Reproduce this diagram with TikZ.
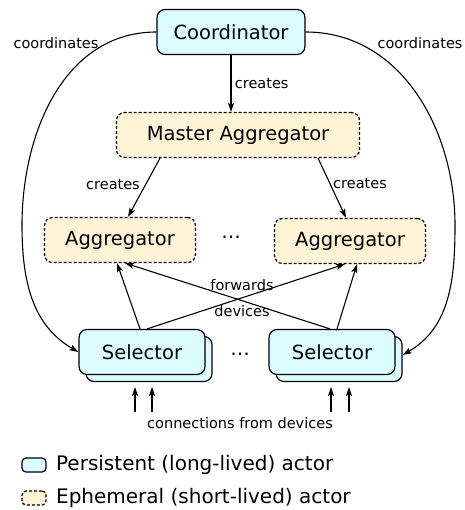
\documentclass[tikz,border=0pt]{standalone}
\usepackage{fontspec}
\setmainfont{DejaVu Sans}
\usetikzlibrary{arrows.meta,shadows}

\definecolor{persistfill}{HTML}{DDFCFF}
\definecolor{ephemfill}{HTML}{FFF4D6}

\tikzset{
  actor/.style={draw, line width=1.2pt, rounded corners=8pt, minimum height=45pt,
    font=\fontsize{19.5}{22}\selectfont},
  persistent/.style={actor, fill=persistfill},
  ephemeral/.style={actor, fill=ephemfill, dashed, dash pattern=on 3pt off 2pt},
  selectorbox/.style={persistent, copy shadow={shadow xshift=7pt, shadow yshift=-7pt}},
  lbl/.style={font=\fontsize{14.5}{16}\selectfont},
  flow/.style={-{Stealth[length=9pt,width=6pt,inset=2pt]}, line width=1.1pt}
}

\begin{document}
\begin{tikzpicture}[x=1pt,y=-1pt]
\useasboundingbox (0,0) rectangle (464,510);

\node[persistent, minimum width=148pt] (coord) at (231,32) {Coordinator};
\node[ephemeral, minimum width=243pt] (master) at (238,135) {Master Aggregator};
\node[ephemeral, minimum width=151pt] (aggL) at (120,240) {Aggregator};
\node[ephemeral, minimum width=151pt] (aggR) at (350,241) {Aggregator};
\node[selectorbox, minimum width=126pt] (selL) at (142,352) {Selector};
\node[selectorbox, minimum width=126pt] (selR) at (332,352) {Selector};
\node[font=\fontsize{19.5}{22}\selectfont] (dotsA) at (231,237) {\dots};
\node[font=\fontsize{19.5}{22}\selectfont] (dotsS) at (240,354) {\dots};

\coordinate (bendL) at (22,225);
\coordinate (bendR) at (455,225);
\draw[flow] (coord.west) to[out=180,in=90] (bendL) to[out=-90,in=150] (selL.west);
\draw[flow] (coord.east) to[out=0,in=90] (bendR) to[out=-90,in=30] ([xshift=7pt,yshift=-3pt]selR.east);
\node[lbl] (coordsL) at (56,43) {coordinates};
\node[lbl] (coordsR) at (420,43) {coordinates};

\draw[flow] (coord.south) -- node[lbl, right] {creates} (master.north -| coord.south);
\draw[flow] (master.south -| 160,0) -- (aggL.north -| 128,0);
\draw[flow] (master.south -| 318,0) -- (aggR.north -| 346,0);
\node[lbl] (createsL) at (113,185) {creates};
\node[lbl] (createsR) at (360,184) {creates};

\draw[flow] (selL.north -| 140,0) -- (aggL.south -| 117,0);
\draw[flow] (selL.north -| 147,0) -- (aggR.south -| 345,0);
\draw[flow] (selR.north -| 330,0) -- (aggL.south -| 125,0);
\draw[flow] (selR.north -| 337,0) -- (aggR.south -| 357,0);
\node[lbl] (fwd) at (242,285) {forwards};
\node[lbl] (dev) at (242,311) {devices};

\foreach \x in {135,152,331,349}
  \draw[flow] (\x,412) -- (\x,387);
\node[lbl] (conn) at (240,423) {connections from devices};

\node[persistent, minimum width=24pt, minimum height=14pt, rounded corners=4pt, inner sep=0pt] (keyP) at (34,465) {};
\node[ephemeral, minimum width=24pt, minimum height=14pt, rounded corners=4pt, inner sep=0pt] (keyE) at (34,498) {};
\node[anchor=west, font=\fontsize{20}{23}\selectfont] at (keyP.east) [xshift=6pt] {Persistent (long-lived) actor};
\node[anchor=west, font=\fontsize{20}{23}\selectfont] at (keyE.east) [xshift=6pt] {Ephemeral (short-lived) actor};
\end{tikzpicture}
\end{document}
